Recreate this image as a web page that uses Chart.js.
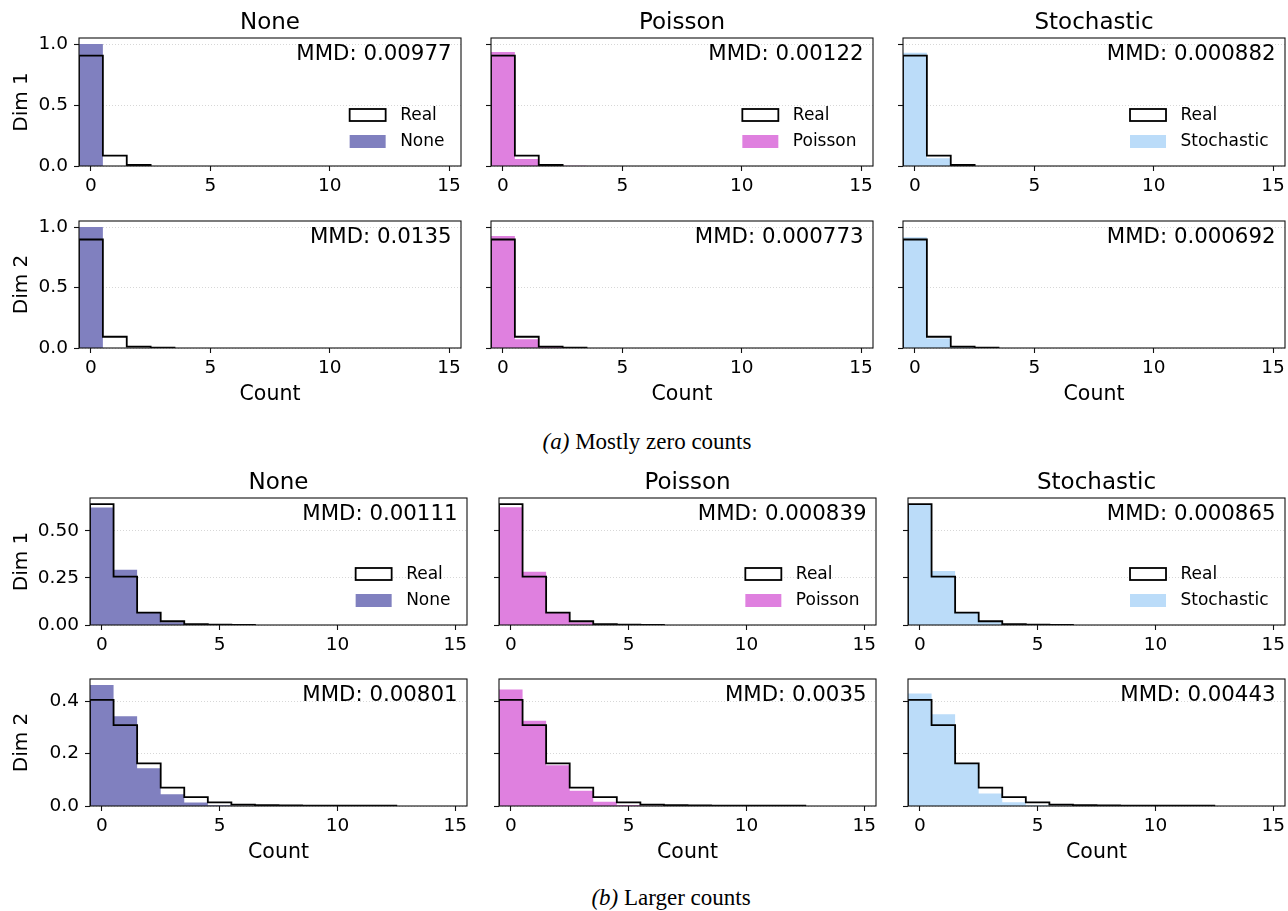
<!DOCTYPE html>
<html>
<head>
<meta charset="utf-8">
<script src="https://cdn.jsdelivr.net/npm/chart.js@4.4.1/dist/chart.umd.min.js"></script>
<style>
  body { margin: 0; background: #fff; width: 1288px; height: 911px; position: relative; overflow: hidden; }
  canvas { position: absolute; }
  .cap { position: absolute; font-family: 'Liberation Serif'; font-size: 23px; white-space: nowrap; transform: translate(-50%, -50%); color: #000; }
</style>
</head>
<body>
<div class="cap" style="left:647px;top:442px"><i>(a)</i> Mostly zero counts</div>
<div class="cap" style="left:671px;top:898px"><i>(b)</i> Larger counts</div>
<script>
// methods shown in the columns
const methods = ['None', 'Poisson', 'Stochastic'];
const methodColors = ['#8080bf', '#df80df', '#bbdcf9'];

// histogram bins are the counts 0, 1, 2, ... (density per bin)
// (a) mostly zero counts
const realA1 = [0.905, 0.085, 0.008];
const noneA1 = [1.0];
const poissonA1 = [0.935, 0.057, 0.006, 0.002];
const stochA1 = [0.93, 0.063, 0.006, 0.001];
const realA2 = [0.897, 0.093, 0.011, 0.002];
const noneA2 = [1.0];
const poissonA2 = [0.925, 0.072, 0.008, 0.002];
const stochA2 = [0.915, 0.078, 0.006, 0.001];
const mmdA1 = ['0.00977', '0.00122', '0.000882'];
const mmdA2 = ['0.0135', '0.000773', '0.000692'];

// (b) larger counts
const realB1 = [0.642, 0.257, 0.066, 0.02, 0.005, 0.002, 0.001];
const noneB1 = [0.624, 0.293, 0.066, 0.014, 0.003, 0.001];
const poissonB1 = [0.625, 0.282, 0.064, 0.014, 0.003, 0.001];
const stochB1 = [0.642, 0.287, 0.066, 0.016, 0.003, 0.001];
const realB2 = [0.405, 0.309, 0.163, 0.07, 0.034, 0.014, 0.005, 0.003, 0.002, 0.001, 0.001, 0.001, 0.001];
const noneB2 = [0.462, 0.343, 0.144, 0.045, 0.013, 0.003, 0.001];
const poissonB2 = [0.445, 0.326, 0.156, 0.058, 0.016, 0.004, 0.001];
const stochB2 = [0.43, 0.35, 0.163, 0.048, 0.014, 0.003, 0.001];
const mmdB1 = ['0.00111', '0.000839', '0.000865'];
const mmdB2 = ['0.00801', '0.0035', '0.00443'];

// ticks
const xTicks = [0, 5, 10, 15];
const yTicksA = [0, 0.5, 1.0];
const yTickTextA = ['0.0', '0.5', '1.0'];
const yTicksB1 = [0, 0.25, 0.5];
const yTickTextB1 = ['0.00', '0.25', '0.50'];
const yTicksB2 = [0, 0.2, 0.4];
const yTickTextB2 = ['0.0', '0.2', '0.4'];

Chart.defaults.font.family = "'DejaVu Sans'";
Chart.defaults.color = '#000';

// histogram outline as step points on bin edges
function stepPoints(vals) {
  const pts = [{x: -0.5, y: 0}];
  vals.forEach((v, i) => pts.push({x: i - 0.5, y: v}));
  pts.push({x: vals.length - 0.5, y: 0});
  return pts;
}

const decor = {
  id: 'panelDecor',
  afterDraw(chart, args, o) {
    const {ctx, chartArea: a} = chart;
    ctx.save();
    ctx.font = "21.3px 'DejaVu Sans'";
    ctx.fillStyle = '#000';
    ctx.textAlign = 'right';
    ctx.textBaseline = 'alphabetic';
    ctx.fillText('MMD: ' + o.mmd, a.right - 9.5, a.top + 22);
    if (o.legend) {
      ctx.font = "17px 'DejaVu Sans'";
      const labels = ['Real', o.name];
      const tw = Math.max(...labels.map(t => ctx.measureText(t).width));
      const tx = a.right - 16.5 - tw;
      const bx = tx - 14.5 - 36;
      labels.forEach((t, i) => {
        const cy = a.bottom - 51 + i * 26.5;
        if (i === 0) {
          ctx.fillStyle = '#fff';
          ctx.fillRect(bx, cy - 6, 36, 12);
          ctx.strokeStyle = '#000';
          ctx.lineWidth = 1.8;
          ctx.strokeRect(bx, cy - 6, 36, 12);
        } else {
          ctx.fillStyle = o.color;
          ctx.fillRect(bx, cy - 6.5, 36, 13);
        }
        ctx.fillStyle = '#000';
        ctx.textAlign = 'left';
        ctx.textBaseline = 'middle';
        ctx.fillText(t, tx, cy + 0.5);
      });
    }
    ctx.strokeStyle = '#111';
    ctx.lineWidth = 1.1;
    ctx.strokeRect(a.left, a.top, a.width, a.height);
    ctx.restore();
  }
};

function makePanel(p) {
  const AXW = p.col === 0 ? p.left : 12;
  const TOP = p.title ? 38 : 24;
  const AXH = 62;
  const RPAD = 10;
  const cv = document.createElement('canvas');
  const w = AXW + p.width + RPAD, h = TOP + p.height + AXH;
  cv.width = w; cv.height = h;
  cv.style.width = w + 'px'; cv.style.height = h + 'px';
  cv.style.left = (p.left - AXW) + 'px';
  cv.style.top = (p.top - TOP) + 'px';
  document.body.appendChild(cv);

  new Chart(cv, {
    type: 'line',
    data: {
      datasets: [
        {label: 'Real', data: stepPoints(p.real), stepped: true, borderColor: '#000', borderWidth: 1.8,
         fill: false, pointRadius: 0, order: 0},
        {label: p.name, data: stepPoints(p.synth), stepped: true, borderWidth: 0, borderColor: 'rgba(0,0,0,0)',
         backgroundColor: p.color, fill: 'origin', pointRadius: 0, order: 1}
      ]
    },
    options: {
      responsive: false,
      animation: false,
      devicePixelRatio: 1,
      layout: {padding: {top: p.title ? 0 : TOP, right: RPAD, left: 0, bottom: 0}},
      plugins: {
        legend: {display: false},
        tooltip: {enabled: false},
        title: {display: !!p.title, text: p.title, fullSize: false, color: '#000',
                font: {size: 23, weight: 'normal'}, padding: {top: 9, bottom: 1.4}},
        panelDecor: {mmd: p.mmd, legend: p.legend, name: p.name, color: p.color}
      },
      scales: {
        x: {
          type: 'linear', min: -0.5, max: 15.5,
          afterBuildTicks: s => { s.ticks = xTicks.map(v => ({value: v})); },
          afterFit: s => { s.height = AXH; },
          grid: {drawOnChartArea: false, drawTicks: true, tickLength: 5, tickColor: '#111', tickWidth: 1.1},
          border: {display: false},
          ticks: {font: {size: 18.5}, color: '#000', padding: 4, maxRotation: 0, autoSkip: false,
                  callback: v => String(v)},
          title: {display: !!p.xLabel, text: p.xLabel, color: '#000', font: {size: 20.5},
                  padding: {top: 0, bottom: 3}}
        },
        y: {
          type: 'linear', min: 0, max: p.ymax,
          afterBuildTicks: s => { s.ticks = p.yTicks.map(v => ({value: v})); },
          afterFit: s => { s.width = AXW; },
          grid: {color: 'rgba(0,0,0,0.2)', lineWidth: 0.8, drawTicks: true, tickLength: 5,
                 tickColor: '#111', tickWidth: 1.1, tickBorderDash: []},
          border: {display: false, dash: [1, 2]},
          ticks: {display: p.col === 0, font: {size: 18.5}, color: '#000', padding: 6,
                  callback: (v, i) => p.yTickText[i]},
          title: {display: !!p.yLabel, text: p.yLabel, color: '#000', font: {size: 20},
                  padding: {top: 9.5, bottom: 0}}
        }
      }
    },
    plugins: [decor]
  });
}

const groups = [
  {lefts: [79, 491, 903], width: 382, tops: [38, 221], heights: [128, 127],
   rows: [
     {real: realA1, synth: [noneA1, poissonA1, stochA1], mmd: mmdA1, yTicks: yTicksA, yTickText: yTickTextA, yLabel: 'Dim 1'},
     {real: realA2, synth: [noneA2, poissonA2, stochA2], mmd: mmdA2, yTicks: yTicksA, yTickText: yTickTextA, yLabel: 'Dim 2'}
   ]},
  {lefts: [90, 499, 908], width: 377, tops: [498, 679], heights: [127, 127],
   rows: [
     {real: realB1, synth: [noneB1, poissonB1, stochB1], mmd: mmdB1, yTicks: yTicksB1, yTickText: yTickTextB1, yLabel: 'Dim 1'},
     {real: realB2, synth: [noneB2, poissonB2, stochB2], mmd: mmdB2, yTicks: yTicksB2, yTickText: yTickTextB2, yLabel: 'Dim 2'}
   ]}
];

groups.forEach(g => {
  g.rows.forEach((r, ri) => {
    const ymax = 1.05 * Math.max(...r.real, ...r.synth.flat());
    methods.forEach((m, c) => {
      makePanel({
        col: c, left: g.lefts[c], width: g.width, top: g.tops[ri], height: g.heights[ri],
        title: ri === 0 ? m : '', legend: ri === 0, xLabel: ri === 1 ? 'Count' : '',
        yLabel: c === 0 ? r.yLabel : '', yTicks: r.yTicks, yTickText: r.yTickText, ymax: ymax,
        real: r.real, synth: r.synth[c], name: m, color: methodColors[c], mmd: r.mmd[c]
      });
    });
  });
});
</script>
</body>
</html>
